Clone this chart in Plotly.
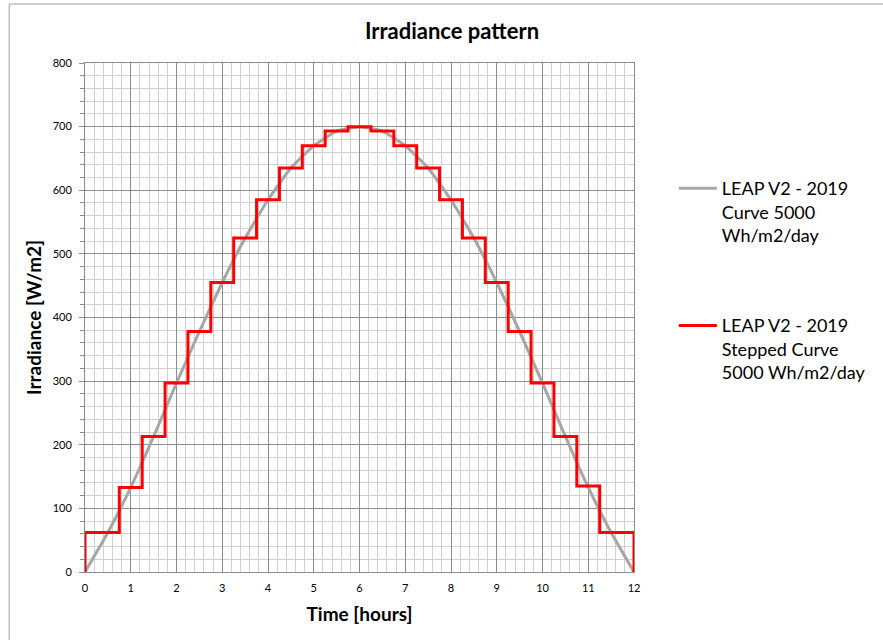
import plotly.graph_objects as go

# Smooth irradiance curve
curve_hours = [0, 0.5, 1, 1.5, 2, 2.5, 3, 3.5, 4, 4.5, 5, 5.5, 6,
               6.5, 7, 7.5, 8, 8.5, 9, 9.5, 10, 10.5, 11, 11.5, 12]
curve_values = [0, 62, 133, 213, 297, 378, 455, 525, 585, 635, 670, 693, 700,
                693, 670, 635, 585, 525, 455, 378, 297, 213, 133, 62, 0]

# Stepped curve: step start hours and step values
step_starts = [0, 0.75, 1.25, 1.75, 2.25, 2.75, 3.25, 3.75, 4.25, 4.75, 5.25, 5.75,
               6.25, 6.75, 7.25, 7.75, 8.25, 8.75, 9.25, 9.75, 10.25, 10.75, 11.25]
step_values = [62, 133, 213, 297, 378, 455, 525, 585, 635, 670, 693, 700,
               693, 670, 635, 585, 525, 455, 378, 297, 213, 135, 62]
step_end = 12

name_curve = "LEAP V2 - 2019<br>Curve 5000<br>Wh/m2/day"
name_step = "LEAP V2 - 2019<br>Stepped Curve<br>5000 Wh/m2/day"

# build hv step path: start at (0,0), then each step start, then close at end
sx = [step_starts[0]] + step_starts + [step_end]
sy = [0] + step_values + [0]

fig = go.Figure()
fig.add_trace(go.Scatter(x=curve_hours, y=curve_values, mode="lines",
                         line=dict(color="#A6A6A6", width=3, shape="spline", smoothing=0.4),
                         name=name_curve, legendgroup="a"))
fig.add_trace(go.Scatter(x=sx, y=sy, mode="lines",
                         line=dict(color="#FF0000", width=3, shape="hv"),
                         name=name_step, legendgroup="b"))

W, H = 883, 640
L, R, T, B = 85, 636, 63, 572
pw, ph = R - L, B - T

def px(x):
    return (x - L) / pw

def py(y):
    return (B - y) / ph

fig.update_layout(
    width=W, height=H,
    margin=dict(l=L, r=W - R, t=T, b=H - B),
    paper_bgcolor="white", plot_bgcolor="white",
    font=dict(family="Lato, Noto Sans, sans-serif", color="#000000"),
    title=dict(text="<b>Irradiance pattern</b>", xref="container", x=452 / W, xanchor="center",
               yref="container", y=1 - 31 / H, yanchor="middle", font=dict(size=22)),
    xaxis=dict(range=[0, 12], dtick=1, tick0=0, showgrid=True, gridcolor="#8C8C8C",
               gridwidth=1, zeroline=False, showline=True, linecolor="#8C8C8C",
               ticks="", tickfont=dict(size=11), mirror=True, ticklabelstandoff=6,
               minor=dict(dtick=0.2, showgrid=True, gridcolor="#D0D0D0", gridwidth=1),
               title=dict(text="<b>Time [hours]</b>", font=dict(size=19), standoff=14)),
    yaxis=dict(range=[0, 800], dtick=100, tick0=0, showgrid=True, gridcolor="#8C8C8C",
               gridwidth=1, zeroline=False, showline=True, linecolor="#8C8C8C",
               ticks="outside", ticklen=5, tickcolor="#8C8C8C", tickfont=dict(size=11),
               mirror=True, ticklabelstandoff=5,
               minor=dict(dtick=20, showgrid=True, gridcolor="#D0D0D0", gridwidth=1,
                          ticks="outside", ticklen=4, tickcolor="#8C8C8C"),
               title=dict(text="<b>Irradiance [W/m2]</b>", font=dict(size=19), standoff=6)),
    legend=dict(x=px(676), y=py(170), xanchor="left", yanchor="top",
                font=dict(size=18), tracegroupgap=64, itemwidth=38, valign="top",
                bgcolor="rgba(0,0,0,0)"),
    showlegend=True,
)

# outer chart border (top and left visible)
fig.add_shape(type="line", xref="paper", yref="paper",
              x0=px(9), x1=px(W + 5), y0=py(4), y1=py(4),
              line=dict(color="#BFBFBF", width=1.5))
fig.add_shape(type="line", xref="paper", yref="paper",
              x0=px(9), x1=px(9), y0=py(4), y1=py(H + 5),
              line=dict(color="#BFBFBF", width=1.5))

fig.write_html("out.html", config={"displayModeBar": False},
               post_script="document.body.style.margin='0';")
